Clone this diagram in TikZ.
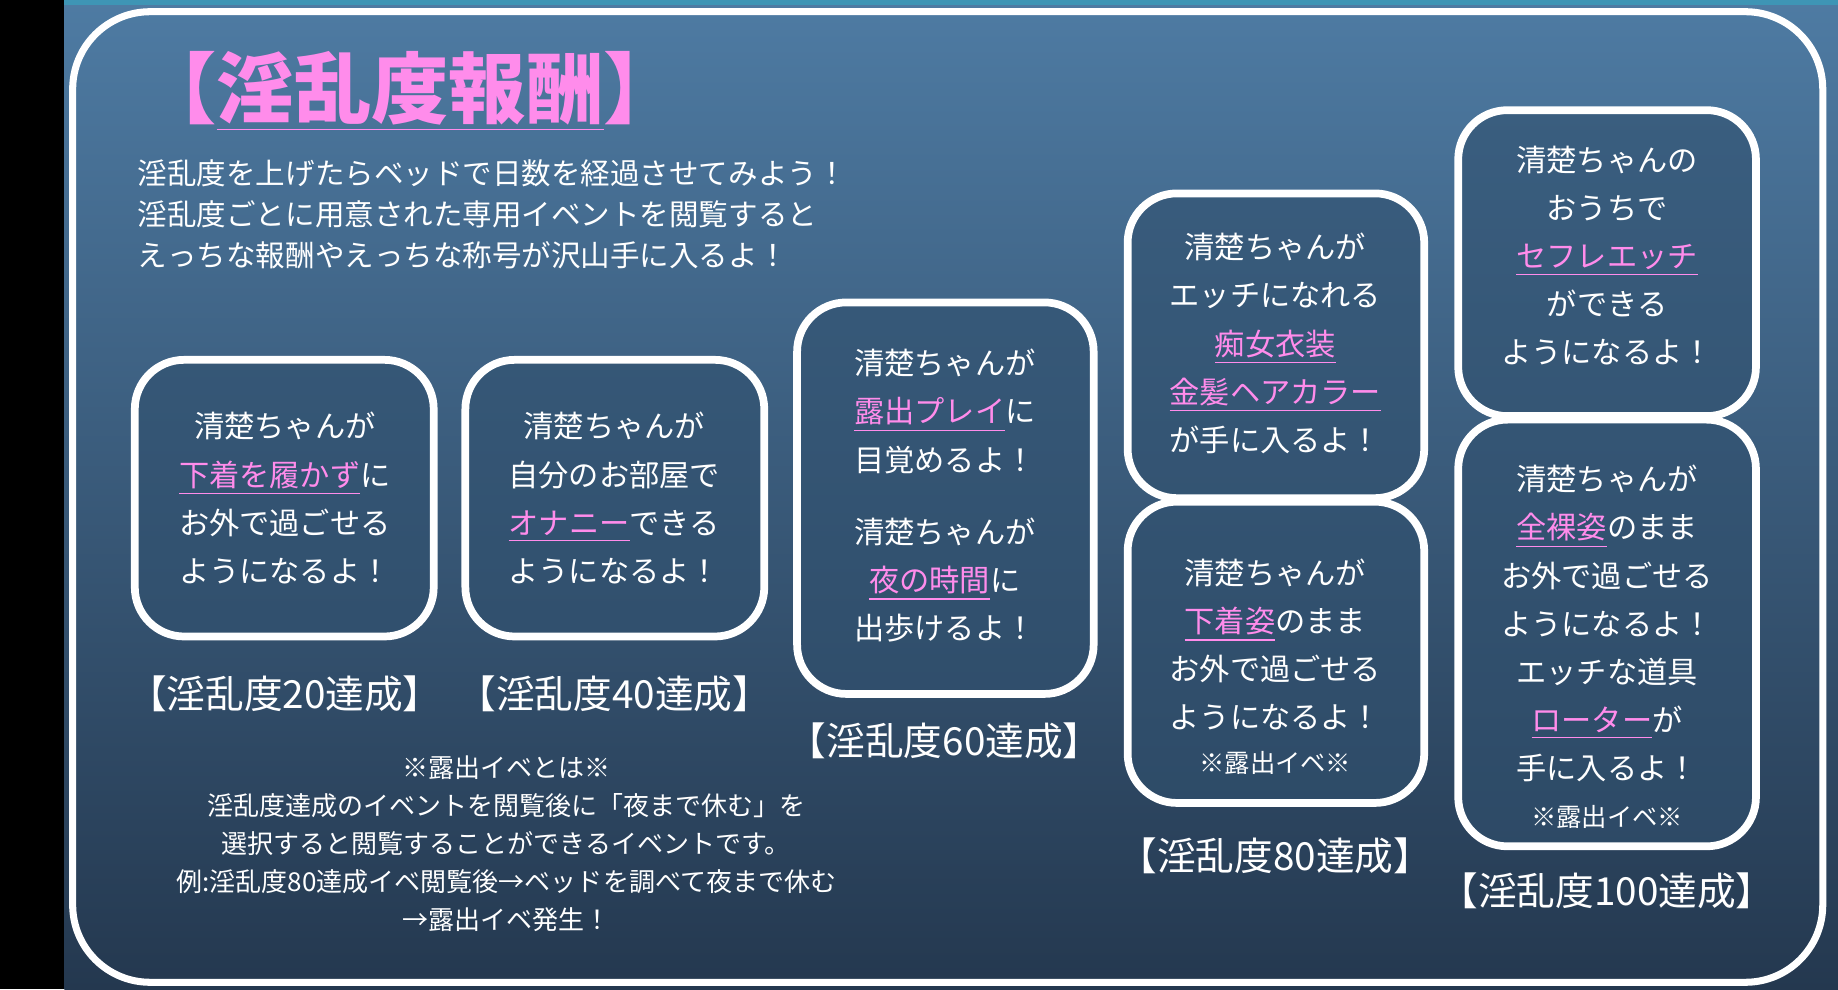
\documentclass[tikz,border=0pt]{standalone}
\usepackage{fontspec}
\newfontfamily\jp{Noto Sans CJK JP}
\usetikzlibrary{positioning}
\definecolor{bgtop}{HTML}{4E7BA3}
\definecolor{bgbot}{HTML}{24384F}
\definecolor{boxfill}{HTML}{30506E}
\definecolor{pinkw}{HTML}{FF8CEB}
\newcommand{\pk}[1]{\textcolor{pinkw}{\underline{#1}}}
\begin{document}
\begin{tikzpicture}[x=0.011722cm, y=-0.011722cm,
  card/.style={draw=white, line width=2.2pt, rounded corners=14pt, fill=boxfill, fill opacity=0.6, draw opacity=1},
  txt/.style={text=white, font=\jp\fontsize{8.6}{13.7}\selectfont, align=center, inner sep=0pt},
  lvl/.style={text=white, font=\jp\fontsize{11}{13}\selectfont, inner sep=0pt},
  small/.style={text=white, font=\jp\fontsize{7.2}{10}\selectfont, align=center, inner sep=0pt}]
\useasboundingbox (0,0) rectangle (1568,844);
\fill[black] (0,0) rectangle (1568,844);
\shade[top color=bgtop, bottom color=bgbot] (55,0) rectangle (1568,844);
\fill[bgtop!80!cyan] (55,0) rectangle (1568,4);
\draw[white, line width=2pt, rounded corners=22pt] (62,10) rectangle (1555,838);
% title and intro
\node[text=pinkw, font=\jp\bfseries\fontsize{22}{26}\selectfont, inner sep=0pt] (title) at (350,78) {【\underline{淫乱度報酬}】};
\node[txt, align=left, anchor=west, font=\jp\fontsize{8.4}{11.6}\selectfont] (intro) at (117,183)
  {淫乱度を上げたらベッドで日数を経過させてみよう！\\淫乱度ごとに用意された専用イベントを閲覧すると\\えっちな報酬やえっちな称号が沢山手に入るよ！};
% cards
\draw[card] (115,307) rectangle (370,543);
\draw[card] (397,307) rectangle (652,543);
\draw[card] (680,258) rectangle (933,592);
\draw[card] (962,165) rectangle (1215,425);
\draw[card] (962,428) rectangle (1215,685);
\draw[card] (1244,94) rectangle (1498,355);
\draw[card] (1244,358) rectangle (1498,722);
\node[txt] (c20) at (243,425) {清楚ちゃんが\\\pk{下着を履かず}に\\お外で過ごせる\\ようになるよ！};
\node[txt] (c40) at (524,425) {清楚ちゃんが\\自分のお部屋で\\\pk{オナニー}できる\\ようになるよ！};
\node[txt] (c60a) at (806,351) {清楚ちゃんが\\\pk{露出プレイ}に\\目覚めるよ！};
\node[txt] (c60b) at (806,495) {清楚ちゃんが\\\pk{夜の時間}に\\出歩けるよ！};
\node[txt] (c80a) at (1088,293) {清楚ちゃんが\\エッチになれる\\\pk{痴女衣装}\\\pk{金髪ヘアカラー}\\が手に入るよ！};
\node[txt] (c80b) at (1088,550) {清楚ちゃんが\\\pk{下着姿}のまま\\お外で過ごせる\\ようになるよ！};
\node[small] (c80n) at (1088,651) {※露出イベ※};
\node[txt] (c100a) at (1371,218) {清楚ちゃんの\\おうちで\\\pk{セフレエッチ}\\ができる\\ようになるよ！};
\node[txt] (c100b) at (1371,532) {清楚ちゃんが\\\pk{全裸姿}のまま\\お外で過ごせる\\ようになるよ！\\エッチな道具\\\pk{ローター}が\\手に入るよ！};
\node[small] (c100n) at (1371,697) {※露出イベ※};
% levels
\node[lvl] (l20) at (243,592) {【淫乱度20達成】};
\node[lvl] (l40) at (524,592) {【淫乱度40達成】};
\node[lvl] (l60) at (806,632) {【淫乱度60達成】};
\node[lvl] (l80) at (1088,730) {【淫乱度80達成】};
\node[lvl] (l100) at (1371,760) {【淫乱度100達成】};
% note
\node[small, font=\jp\fontsize{7.4}{10.8}\selectfont] (note) at (432,720)
  {※露出イベとは※\\淫乱度達成のイベントを閲覧後に「夜まで休む」を\\選択すると閲覧することができるイベントです。\\例:淫乱度80達成イベ閲覧後→ベッドを調べて夜まで休む\\→露出イベ発生！};
\end{tikzpicture}
\end{document}
